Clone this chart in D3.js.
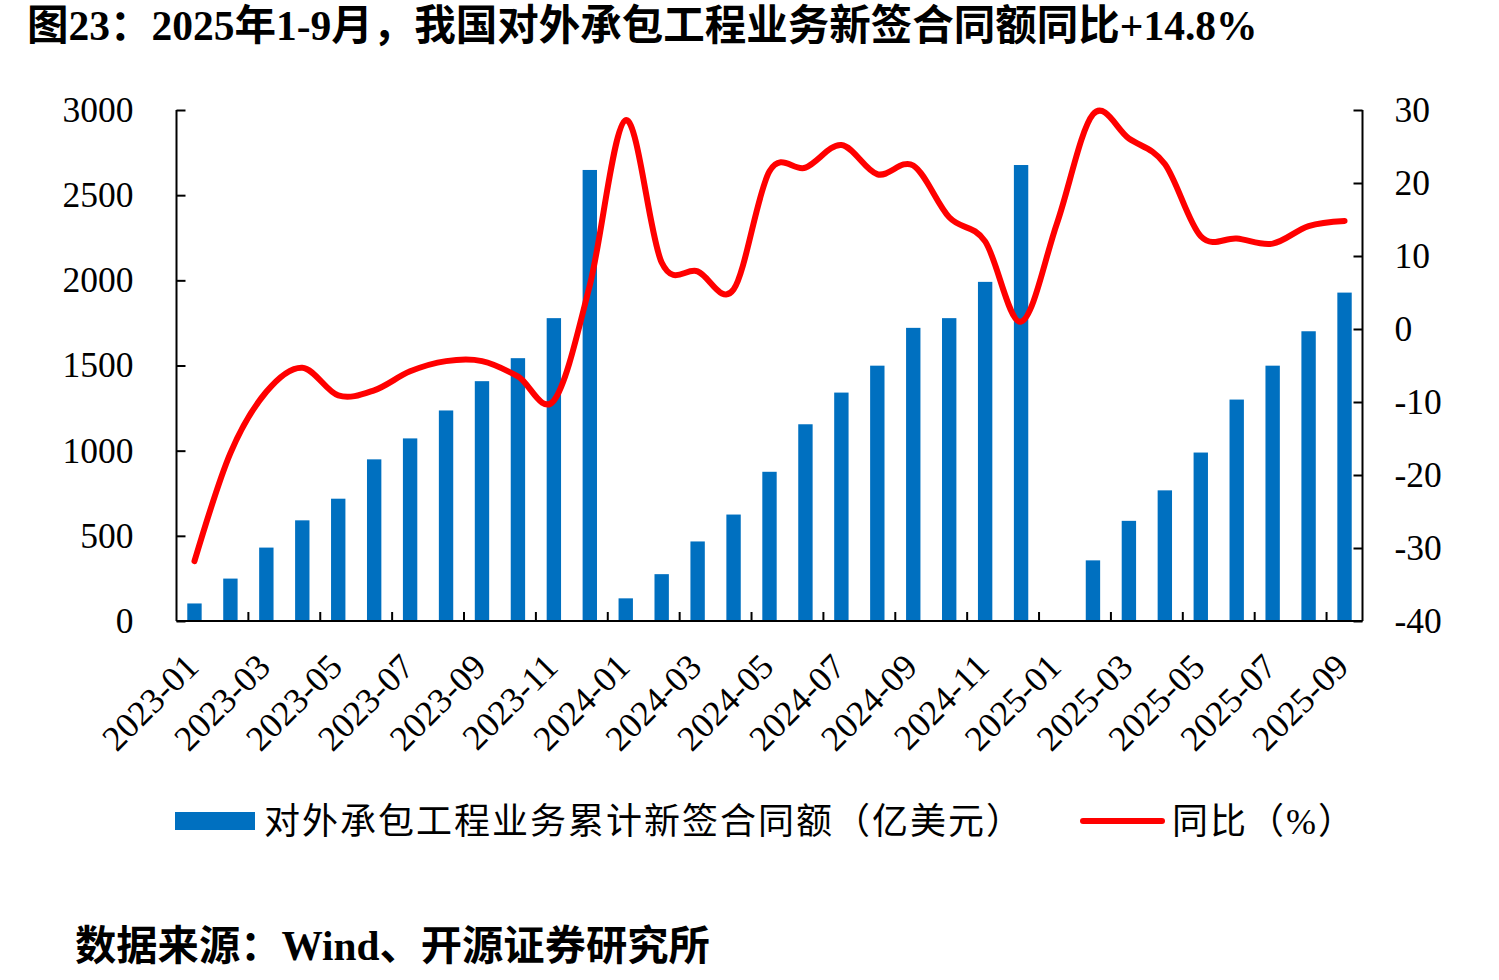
<!DOCTYPE html>
<html>
<head>
<meta charset="utf-8">
<script src="https://cdn.jsdelivr.net/npm/d3@7"></script>
<style>
  body { margin: 0; background: #fff; }
  text { font-family: "Times New Roman", "Liberation Serif", "Noto Sans CJK SC", serif; }
</style>
</head>
<body>
<svg id="chart" width="1499" height="980"></svg>
<script>
'use strict'

// months on the x axis
const months = [
  '2023-01','2023-02','2023-03','2023-04','2023-05','2023-06','2023-07','2023-08','2023-09','2023-10','2023-11','2023-12',
  '2024-01','2024-02','2024-03','2024-04','2024-05','2024-06','2024-07','2024-08','2024-09','2024-10','2024-11','2024-12',
  '2025-01','2025-02','2025-03','2025-04','2025-05','2025-06','2025-07','2025-08','2025-09'
]

// 对外承包工程业务累计新签合同额（亿美元）, no value for 2025-01
const amount = [
  103, 249, 431, 591, 718, 949, 1072, 1236, 1408, 1543, 1778, 2648,
  133, 275, 467, 625, 876, 1155, 1341, 1499, 1721, 1778, 1991, 2677,
  null, 356, 588, 767, 989, 1300, 1499, 1701, 1928
]

// 同比（%）
const yoy = [
  -31.8, -17.0, -8.6, -5.3, -9.1, -8.4, -5.8, -4.4, -4.4, -6.5, -9.8, 6.0,
  28.6, 9.1, 7.9, 5.4, 21.6, 22.1, 25.2, 21.2, 22.4, 15.3, 12.0, 1.0,
  14.5, 29.4, 26.1, 22.6, 12.7, 12.4, 11.7, 14.1, 14.8
]

const leftTicks = [0, 500, 1000, 1500, 2000, 2500, 3000]
const rightTicks = [-40, -30, -20, -10, 0, 10, 20, 30]

const title = '图23：2025年1-9月，我国对外承包工程业务新签合同额同比+14.8%'
const legendBar = '对外承包工程业务累计新签合同额（亿美元）'
const legendLine = '同比（%）'
const source = '数据来源：Wind、开源证券研究所'

const margins = {left: 176.5, right: 1362.5, top: 110, bottom: 621}
const svg = d3.select('#chart')

svg.append('rect').attr('width', 1499).attr('height', 980).attr('fill', '#fff')

const x = d3.scaleBand().domain(months)
  .range([margins.left, margins.right])
  .paddingInner(0.6).paddingOuter(0.3)
const yL = d3.scaleLinear().domain([0, 3000]).range([margins.bottom, margins.top])
const yR = d3.scaleLinear().domain([-40, 30]).range([margins.bottom, margins.top])

// bars
svg.append('g').selectAll('rect')
  .data(months.map((m, i) => ({m: m, v: amount[i]})).filter(d => d.v !== null))
  .enter().append('rect')
  .attr('x', d => x(d.m))
  .attr('y', d => yL(d.v))
  .attr('width', x.bandwidth())
  .attr('height', d => yL(0) - yL(d.v))
  .attr('fill', '#0070C0')

// yoy line
const line = d3.line()
  .x((d, i) => x(months[i]) + x.bandwidth() / 2)
  .y(d => yR(d))
  .curve(d3.curveCardinal.tension(0))

svg.append('path')
  .datum(yoy)
  .attr('d', line)
  .attr('fill', 'none')
  .attr('stroke', '#FF0000')
  .attr('stroke-width', 6)
  .attr('stroke-linecap', 'round')
  .attr('stroke-linejoin', 'round')

// left axis
const axL = svg.append('g')
  .attr('transform', 'translate(' + margins.left + ',0)')
  .call(d3.axisLeft(yL).tickValues(leftTicks).tickSize(-9).tickPadding(43).tickFormat(d => String(d)))
axL.selectAll('text').style('font-size', '35.5px').attr('fill', '#000')
axL.selectAll('line, path').attr('stroke', '#000').attr('stroke-width', 2)
axL.select('.domain').attr('d', 'M0,' + margins.top + 'V' + margins.bottom)

// right axis
const axR = svg.append('g')
  .attr('transform', 'translate(' + margins.right + ',0)')
  .call(d3.axisRight(yR).tickValues(rightTicks).tickSize(-9).tickPadding(32).tickFormat(d => String(d)))
axR.selectAll('text').style('font-size', '35.5px').attr('fill', '#000')
axR.selectAll('line, path').attr('stroke', '#000').attr('stroke-width', 2)
axR.select('.domain').attr('d', 'M0,' + margins.top + 'V' + margins.bottom)

// bottom axis: line, inner ticks every two months, rotated labels
svg.append('line')
  .attr('x1', margins.left).attr('x2', margins.right)
  .attr('y1', margins.bottom).attr('y2', margins.bottom)
  .attr('stroke', '#000').attr('stroke-width', 2)

const step = x.step()
svg.append('g').selectAll('line')
  .data(d3.range(2, months.length, 2))
  .enter().append('line')
  .attr('x1', k => margins.left + k * step)
  .attr('x2', k => margins.left + k * step)
  .attr('y1', margins.bottom)
  .attr('y2', margins.bottom - 9)
  .attr('stroke', '#000').attr('stroke-width', 2)

svg.append('g').selectAll('text')
  .data(months.filter((m, i) => i % 2 === 0))
  .enter().append('text')
  .attr('transform', m => 'translate(' + (x(m) + x.bandwidth() / 2 + 6) + ',' + (margins.bottom + 48) + ') rotate(-45)')
  .attr('text-anchor', 'end')
  .style('font-size', '35.5px')
  .text(m => m)

// title
svg.append('text')
  .attr('x', 27).attr('y', 40)
  .style('font-size', '41.5px').style('font-weight', 'bold')
  .text(title)

// legend
svg.append('rect')
  .attr('x', 175).attr('y', 812).attr('width', 80).attr('height', 18)
  .attr('fill', '#0070C0')
svg.append('text')
  .attr('x', 264).attr('y', 834)
  .style('font-size', '36px').style('letter-spacing', '2px')
  .text(legendBar)
svg.append('line')
  .attr('x1', 1083).attr('x2', 1162).attr('y1', 821).attr('y2', 821)
  .attr('stroke', '#FF0000').attr('stroke-width', 6).attr('stroke-linecap', 'round')
svg.append('text')
  .attr('x', 1172).attr('y', 834)
  .style('font-size', '36px').style('letter-spacing', '2px')
  .text(legendLine)

// source
svg.append('text')
  .attr('x', 75).attr('y', 960)
  .style('font-size', '41.3px').style('font-weight', 'bold')
  .text(source)
</script>
</body>
</html>
